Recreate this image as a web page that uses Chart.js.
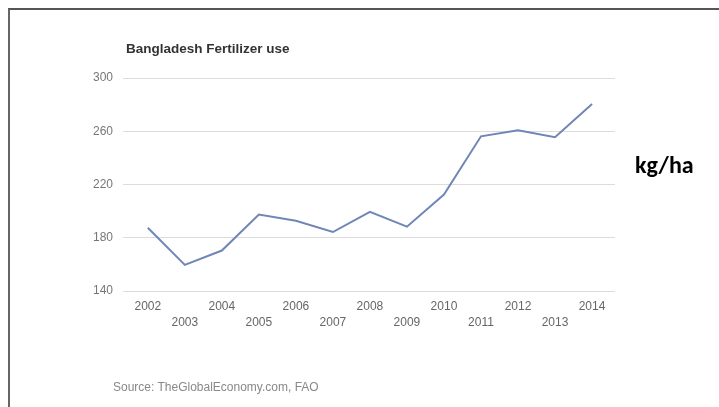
<!DOCTYPE html>
<html>
<head>
<meta charset="utf-8">
<script src="https://cdn.jsdelivr.net/npm/chart.js@4/dist/chart.umd.min.js"></script>
<style>
  html, body { margin: 0; padding: 0; background: #fff; }
  #wrap { position: relative; width: 719px; height: 407px; overflow: hidden; }
  #frame { position: absolute; left: 8px; top: 8px; width: 800px; height: 500px;
           border-top: 2px solid #555; border-left: 2px solid #666; box-sizing: border-box; }
  canvas { position: absolute; left: 0; top: 0; }
  .t { position: absolute; font-family: "Liberation Sans", Arial, sans-serif; white-space: nowrap; }
  #title { left: 126px; top: 41px; font-size: 13.5px; line-height: 16px; font-weight: bold; color: #333; }
  #source { left: 113px; top: 380px; font-size: 12px; line-height: 14px; color: #888; }
  #unit { left: 635px; top: 153px; font-size: 24px; line-height: 24px; font-weight: bold; color: #000; font-family: Carlito, Calibri, "Liberation Sans", Arial, sans-serif; }
</style>
</head>
<body>
<div id="wrap">
  <div id="frame"></div>
  <canvas id="c" width="719" height="407"></canvas>
  <div class="t" id="title">Bangladesh Fertilizer use</div>
  <div class="t" id="source">Source: TheGlobalEconomy.com, FAO</div>
  <div class="t" id="unit">kg/ha</div>
</div>
<script>
const years = [2002, 2003, 2004, 2005, 2006, 2007, 2008, 2009, 2010, 2011, 2012, 2013, 2014];
const fertilizerUse = [187.5, 159.6, 170.4, 197.4, 192.8, 184.3, 199.4, 188.3, 212.5, 256.2, 260.8, 255.5, 280.4];
const yTicks = [140, 180, 220, 260, 300];

const ctx = document.getElementById('c');
new Chart(ctx, {
  type: 'line',
  data: {
    datasets: [{
      data: years.map((y, i) => ({ x: y, y: fertilizerUse[i] })),
      borderColor: '#6f86b6',
      borderWidth: 2,
      pointRadius: 0,
      tension: 0,
      fill: false
    }]
  },
  options: {
    responsive: false,
    animation: false,
    devicePixelRatio: 1,
    layout: { padding: { left: 0, top: 78, right: 104, bottom: 0 } },
    plugins: { legend: { display: false }, tooltip: { enabled: false }, title: { display: false } },
    scales: {
      x: {
        type: 'linear',
        min: 2001.33,
        max: 2014.62,
        afterBuildTicks: s => { s.ticks = years.map(v => ({ value: v })); },
        afterFit: s => { s.height = 116; },
        grid: { display: false, drawTicks: false },
        border: { display: false },
        ticks: {
          autoSkip: false,
          maxRotation: 0,
          padding: 8,
          color: '#666',
          font: { family: '"Liberation Sans", Arial, sans-serif', size: 12, lineHeight: '16px' },
          callback: v => (v % 2 === 0) ? [String(v), ''] : ['', String(v)]
        }
      },
      y: {
        min: 140,
        max: 300,
        afterBuildTicks: s => { s.ticks = yTicks.map(v => ({ value: v })); },
        afterFit: s => { s.width = 123; },
        grid: { color: '#dcdcdc', lineWidth: 1, drawTicks: false },
        border: { display: false },
        ticks: {
          padding: 10,
          color: '#777',
          font: { family: '"Liberation Sans", Arial, sans-serif', size: 12 }
        }
      }
    }
  }
});
</script>
</body>
</html>
